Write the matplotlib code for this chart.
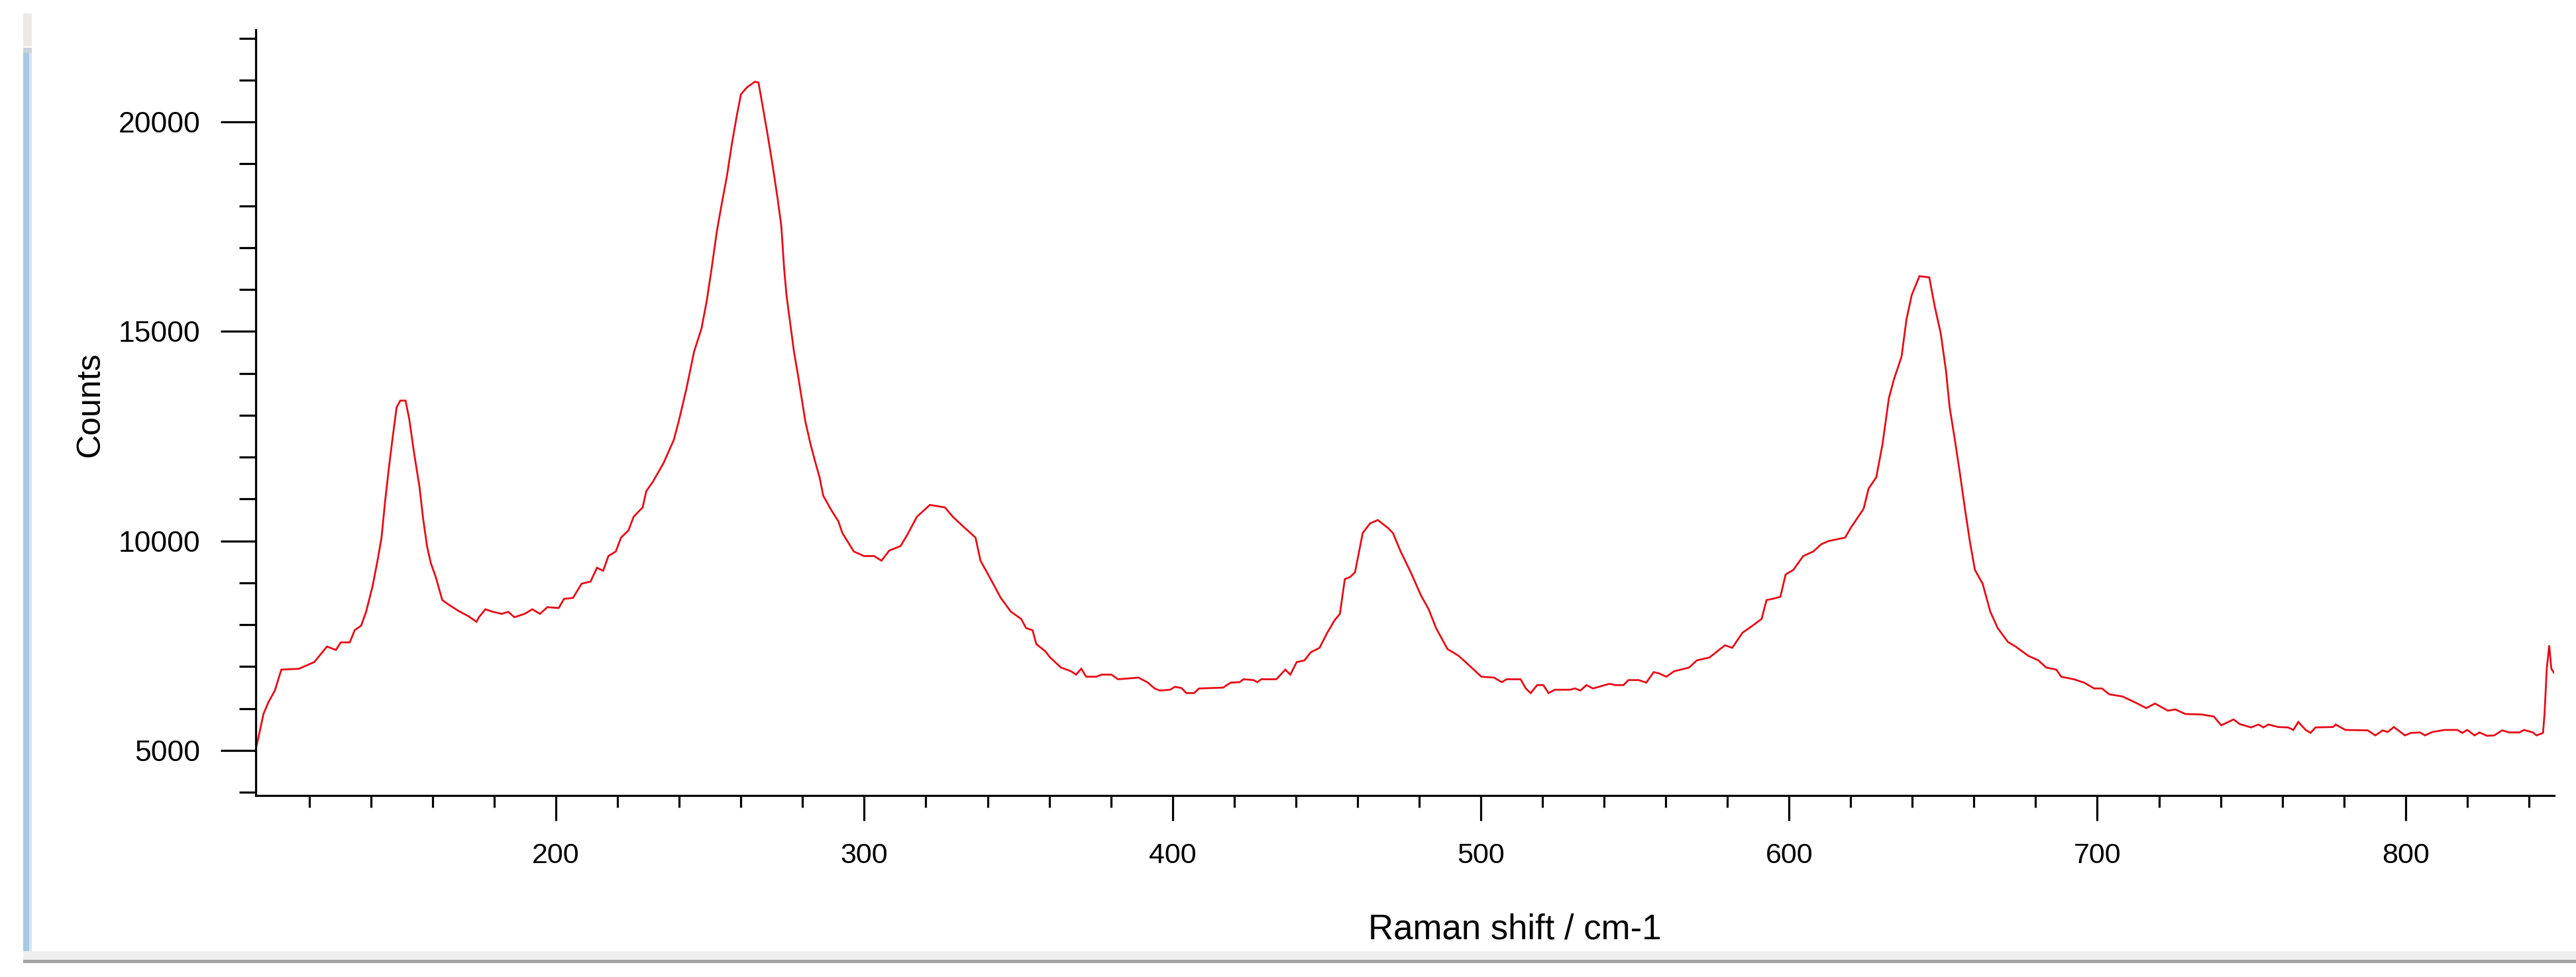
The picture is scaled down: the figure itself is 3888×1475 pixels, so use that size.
import matplotlib
matplotlib.use('Agg')
import matplotlib.pyplot as plt
from matplotlib.patches import Rectangle
from matplotlib.ticker import MultipleLocator, StrMethodFormatter

plt.rcParams['font.family'] = ['Liberation Sans', 'DejaVu Sans']

# ---------------- data ----------------
raman_shift = [
    102.6, 103.0, 105.1, 106.7, 108.8, 110.9, 116.6, 121.6, 125.7, 128.6, 130.2, 133.1, 134.7,
    136.8, 138.4, 140.5, 142.1, 143.4, 144.6, 145.8, 147.1, 148.3, 149.5, 151.2, 152.4, 154.0,
    155.7, 156.9, 158.2, 159.4, 161.0, 163.1, 165.2, 168.4, 171.7, 174.2, 175.0, 177.1, 179.5,
    182.4, 184.5, 186.5, 189.8, 192.3, 194.8, 197.2, 200.9, 202.6, 205.5, 208.3, 211.2, 213.3,
    215.3, 217.0, 219.4, 221.1, 223.5, 225.2, 228.1, 229.3, 231.4,
    234.9, 238.2, 239.8, 242.3, 244.8, 247.2, 248.9, 250.5, 252.2, 253.8, 255.5, 257.1, 258.7,
    260.0, 262.0, 264.5, 265.7, 267.0, 268.6, 270.3, 271.9, 273.1, 274.0, 274.8, 276.0, 277.2,
    278.5, 279.7, 280.9, 282.6, 284.2, 285.5, 286.7, 289.2, 291.6, 292.9, 296.6, 299.9, 303.2,
    305.6, 308.1, 311.8, 313.9, 317.1, 321.3, 326.2, 328.7, 331.9, 336.1, 337.7, 340.2, 344.3,
    347.6, 350.9, 352.5, 354.6, 355.8, 358.7, 360.3,
    363.8, 367.1, 368.7, 370.4, 372.0, 375.3, 377.0, 380.2, 382.3, 387.6, 388.9, 391.8, 394.2,
    395.9, 399.2, 400.8, 402.9, 404.5, 407.0, 408.6, 416.4, 418.9, 421.8, 423.0, 426.3, 427.5,
    428.8, 433.7, 436.6, 438.2, 440.3, 442.8, 444.8, 447.7, 450.2, 452.6, 454.3, 455.9, 457.6,
    459.2, 461.7, 464.1, 466.6, 469.9, 471.5, 474.0, 477.3, 480.6, 483.1, 485.5, 489.2,
    492.8, 496.1, 500.2, 504.3, 506.8, 508.4, 512.9, 514.6, 516.2, 518.3, 520.3, 522.0, 524.0,
    529.0, 530.6, 532.3, 534.3, 536.4, 541.7, 543.8, 546.3, 547.9, 551.2, 553.7, 556.1, 557.8,
    560.2, 562.7, 567.6, 570.1, 574.2, 579.2, 581.6, 584.9, 588.2, 591.1, 592.7, 594.8, 597.2,
    598.9, 601.4, 604.6, 607.9, 610.4, 612.9, 618.2,
    620.0, 624.2, 625.8, 628.3, 630.3, 632.4, 634.0, 636.5, 638.1, 639.8, 642.3, 645.5, 647.2,
    649.2, 650.9, 652.1, 653.8, 655.4, 657.1, 658.7, 660.3, 662.8, 665.3, 667.7, 671.0, 673.5,
    677.6, 680.9, 683.4, 686.7, 688.3, 692.4, 695.7, 699.0, 701.5, 703.9, 708.1, 712.2, 715.9,
    718.7, 722.9, 725.3, 728.6,
    733.7, 737.8, 740.2, 744.2, 746.2, 749.9, 752.3, 753.9, 755.5, 758.7, 761.9, 763.6, 765.2,
    767.6, 769.2, 770.8, 776.5, 777.3, 780.5, 787.7, 790.2, 792.6, 794.2, 796.2, 799.8, 801.8,
    804.7, 806.3, 808.7, 812.7, 816.8, 818.4, 820.0, 822.4, 824.0, 826.4, 828.8, 831.3, 833.7,
    836.9, 838.5, 841.3, 842.5, 844.6, 845.1, 845.8, 846.6, 847.3, 848.2,
]
counts = [
    5050, 5150, 5870, 6150, 6430, 6930, 6950, 7110, 7480, 7400, 7580, 7580, 7870,
    7980, 8310, 8920, 9530, 10080, 10970, 11750, 12520, 13190, 13350, 13350, 12910, 12080,
    11300, 10530, 9860, 9470, 9140, 8590, 8480, 8330, 8200, 8070, 8180, 8370, 8310,
    8260, 8310, 8180, 8260, 8370, 8260, 8420, 8400, 8620, 8640, 8980, 9030, 9360,
    9290, 9640, 9750, 10080, 10250, 10580, 10800, 11190, 11410,
    11860, 12410, 12850, 13630, 14520, 15070, 15730, 16510, 17400, 18060, 18730, 19500, 20170,
    20660, 20830, 20960, 20940, 20390, 19720, 18950, 18170, 17510, 16510, 15850, 15180, 14520,
    13960, 13410, 12850, 12300, 11860, 11520, 11080, 10750, 10470, 10190, 9750, 9640, 9640,
    9530, 9770, 9880, 10140, 10580, 10860, 10800, 10580, 10360, 10080, 9530, 9200, 8640,
    8310, 8140, 7920, 7870, 7540, 7370, 7220,
    6980, 6890, 6810, 6950, 6760, 6760, 6810, 6810, 6700, 6730, 6740, 6630, 6480,
    6430, 6450, 6520, 6490, 6370, 6370, 6480, 6500, 6620, 6630, 6700, 6680, 6630,
    6700, 6700, 6930, 6810, 7110, 7150, 7340, 7450, 7810, 8110, 8260, 9090, 9140,
    9250, 10190, 10420, 10500, 10310, 10190, 9750, 9250, 8700, 8370, 7920, 7420,
    7260, 7040, 6760, 6740, 6630, 6700, 6700, 6480, 6370, 6560, 6560, 6370, 6450,
    6450, 6480, 6430, 6560, 6480, 6590, 6560, 6560, 6680, 6680, 6620, 6870, 6840,
    6760, 6890, 6980, 7150, 7220, 7510, 7450, 7810, 7980, 8140, 8590, 8620, 8670,
    9200, 9310, 9640, 9750, 9920, 10000, 10080,
    10310, 10770, 11250, 11520, 12300, 13410, 13850, 14400, 15290, 15870, 16320, 16290, 15620,
    14960, 14070, 13190, 12410, 11630, 10750, 9970, 9310, 8980, 8310, 7920, 7590, 7480,
    7260, 7150, 6980, 6930, 6760, 6700, 6620, 6480, 6480, 6340, 6290, 6150, 6010,
    6120, 5950, 5980, 5870,
    5860, 5810, 5600, 5740, 5630, 5550, 5620, 5550, 5620, 5560, 5550, 5490, 5680,
    5490, 5420, 5550, 5560, 5620, 5490, 5480, 5360, 5480, 5440, 5560, 5360, 5420,
    5430, 5360, 5440, 5490, 5490, 5420, 5490, 5360, 5430, 5350, 5360, 5480, 5430,
    5430, 5490, 5430, 5360, 5420, 5890, 6940, 7510, 6950, 6850,
]

x_label = 'Raman shift / cm-1'
y_label = 'Counts'

# ---------------- figure ----------------
W, H = 3888, 1475
fig = plt.figure(figsize=(W / 100, H / 100), dpi=100)
fig.patch.set_facecolor('white')


def px_rect(x0, y0, x1, y1, color):
    fig.patches.append(Rectangle((x0 / W, 1 - y1 / H), (x1 - x0) / W, (y1 - y0) / H,
                                 transform=fig.transFigure, facecolor=color,
                                 edgecolor='none', zorder=0))


# window chrome of the screenshot
px_rect(35, 20, 48, 70, '#ece9e6')
px_rect(35, 72, 48, 80, '#c9d3dc')
px_rect(35, 80, 44, 1436, '#a9c8e5')
px_rect(44, 80, 48, 1436, '#d6e6f4')
px_rect(35, 1436, W, 1449, '#efefef')
px_rect(35, 1449, W, 1454, '#a3a3a3')

ax = fig.add_axes([386 / W, 1 - 1201 / H, (3855 - 386) / W, (1201 - 45) / H])
ax.set_facecolor('none')
ax.plot(raman_shift, counts, color='#e60a16', lw=2.0, solid_joinstyle='miter')

ax.set_xlim(102.6, 848.2)
ax.set_ylim(3925, 22200)

for s in ('top', 'right'):
    ax.spines[s].set_visible(False)
for s in ('left', 'bottom'):
    ax.spines[s].set_linewidth(2.3)
    ax.spines[s].set_color('black')

ax.xaxis.set_major_locator(MultipleLocator(100))
ax.xaxis.set_minor_locator(MultipleLocator(20))
ax.yaxis.set_major_locator(MultipleLocator(5000))
ax.yaxis.set_minor_locator(MultipleLocator(1000))
ax.yaxis.set_major_formatter(StrMethodFormatter('{x:.0f}'))
ax.xaxis.set_major_formatter(StrMethodFormatter('{x:.0f}'))

ax.tick_params(axis='y', which='major', length=38, width=2.3, pad=22, labelsize=32, direction='out')
ax.tick_params(axis='y', which='minor', length=18, width=2.3, direction='out')
ax.tick_params(axis='x', which='major', length=27, width=2.3, pad=24, labelsize=31, direction='out')
ax.tick_params(axis='x', which='minor', length=13, width=2.3, direction='out')

ax.set_xlabel(x_label, fontsize=38)
ax.xaxis.label.set_verticalalignment('baseline')
ax.xaxis.set_label_coords(0.5477, -0.1869)

ax.set_ylabel(y_label, fontsize=36)
ax.yaxis.label.set_rotation_mode('default')
ax.yaxis.label.set_verticalalignment('center')
ax.yaxis.label.set_horizontalalignment('center')
ax.yaxis.set_label_coords(-0.0719, 0.511)

fig.savefig('out.png', dpi=100, facecolor='white')
